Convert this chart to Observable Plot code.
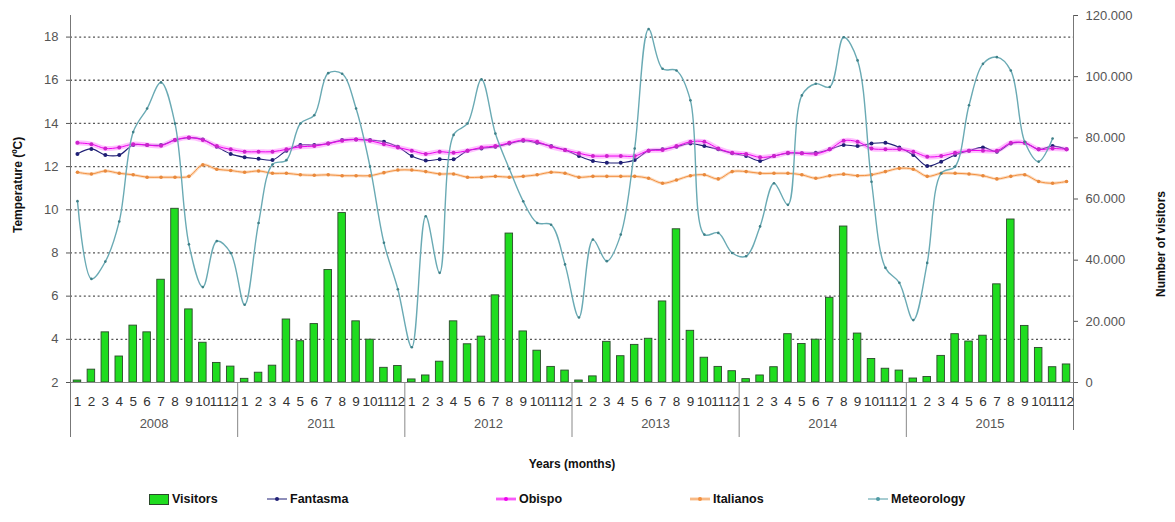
<!DOCTYPE html>
<html><head><meta charset="utf-8">
<script src="https://cdn.jsdelivr.net/npm/d3@7"></script>
<script src="https://cdn.jsdelivr.net/npm/@observablehq/plot@0.6"></script>
<style>
body{margin:0;background:#fff;font-family:"Liberation Sans",Arial,sans-serif;}
#wrap{position:relative;width:1175px;height:522px;overflow:hidden;}
.leg{position:absolute;top:491px;height:16px;display:flex;align-items:center;font-size:12.5px;font-weight:bold;color:#111;font-family:"Liberation Sans Narrow","Liberation Sans",Arial,sans-serif;}
</style></head><body><div id="wrap"></div>
<script>
const years = ["2008","2011","2012","2013","2014","2015"];
const monthLabels = ["1","2","3","4","5","6","7","8","9","10","11","12"];
const visitors = [
  650, 4200, 16400, 8500, 18600, 16400, 33600, 56800, 23900, 13000, 6400, 5200,
  1200, 3200, 5500, 20600, 13500, 19100, 36800, 55400, 20000, 14000, 4800, 5400,
  1000, 2300, 6800, 20000, 12500, 15000, 28500, 48700, 16700, 10400, 5100, 3900,
  650, 2000, 13300, 8600, 12300, 14300, 26500, 50100, 16900, 8100, 5100, 3700,
  1100, 2300, 5000, 15800, 12600, 14000, 27700, 51000, 16000, 7700, 4500, 3900,
  1300, 1800, 8700, 15800, 13400, 15300, 32100, 53300, 18500, 11300, 5000, 5900
];
const fantasma = [
  12.59, 12.82, 12.54, 12.54, 13.0, 13.0, 13.0, 13.23, 13.34, 13.26, 12.92, 12.59,
  12.43, 12.36, 12.31, 12.74, 13.0, 13.0, 13.07, 13.23, 13.26, 13.23, 13.15, 12.92,
  12.49, 12.28, 12.34, 12.34, 12.74, 12.84, 12.92, 13.07, 13.2, 13.1, 12.95, 12.77,
  12.49, 12.26, 12.18, 12.18, 12.31, 12.74, 12.8, 12.92, 13.07, 12.95, 12.8, 12.62,
  12.49, 12.26, 12.49, 12.62, 12.62, 12.64, 12.8, 13.0, 12.95, 13.07, 13.1, 12.89,
  12.54, 12.03, 12.23, 12.54, 12.74, 12.89, 12.69, 13.07, 13.1, 12.8, 12.95, 12.8
];
const obispo = [
  13.1, 13.04, 12.84, 12.89, 13.04, 13.0, 12.97, 13.23, 13.35, 13.23, 12.95, 12.8,
  12.69, 12.69, 12.69, 12.8, 12.92, 12.95, 13.07, 13.2, 13.26, 13.2, 13.04, 12.89,
  12.74, 12.59, 12.69, 12.64, 12.74, 12.89, 12.95, 13.1, 13.23, 13.15, 12.92, 12.77,
  12.62, 12.49, 12.49, 12.49, 12.49, 12.74, 12.77, 12.95, 13.15, 13.15, 12.84, 12.64,
  12.59, 12.43, 12.49, 12.64, 12.62, 12.59, 12.8, 13.2, 13.15, 12.84, 12.8, 12.8,
  12.69, 12.46, 12.49, 12.64, 12.74, 12.74, 12.74, 13.1, 13.1, 12.8, 12.84, 12.8
];
const italianos = [
  11.74, 11.66, 11.80, 11.69, 11.62, 11.51, 11.51, 11.51, 11.55, 12.08, 11.88, 11.82,
  11.74, 11.80, 11.69, 11.69, 11.62, 11.60, 11.62, 11.58, 11.58, 11.58, 11.72, 11.84,
  11.84, 11.77, 11.66, 11.66, 11.51, 11.51, 11.55, 11.51, 11.55, 11.62, 11.74, 11.69,
  11.51, 11.55, 11.55, 11.55, 11.55, 11.46, 11.23, 11.38, 11.58, 11.62, 11.43, 11.77,
  11.77, 11.69, 11.69, 11.69, 11.62, 11.46, 11.58, 11.65, 11.58, 11.62, 11.77, 11.92,
  11.88, 11.55, 11.69, 11.69, 11.66, 11.58, 11.43, 11.55, 11.62, 11.31, 11.23, 11.31
];
const meteorology = [
  10.4, 6.8, 7.6, 9.46, 13.6, 14.69, 15.9, 14.0, 8.4, 6.42, 8.55, 8.0,
  5.6, 9.39, 12.1, 12.3, 14.0, 14.38, 16.33, 16.3, 14.69, 12.0, 8.47, 6.32,
  3.63, 9.7, 7.08, 13.47, 14.0, 16.04, 13.53, 11.9, 10.39, 9.39, 9.31, 7.47,
  5.01, 8.62, 7.62, 8.85, 12.84, 18.37, 16.53, 16.45, 15.07, 8.85, 8.93, 8.0,
  7.85, 9.23, 11.23, 10.23, 15.3, 15.84, 15.69, 17.99, 16.92, 11.3, 7.31, 6.62,
  4.89, 7.54, 11.69, 12.0, 14.84, 16.76, 17.07, 16.45, 13.15, 12.23, 13.3, null
];
const tempTicks = [2, 4, 6, 8, 10, 12, 14, 16, 18];
const visitorTicks = [0, 20000, 40000, 60000, 80000, 100000, 120000];

const rows = visitors.map((v, i) => ({
  i, m: monthLabels[i % 12], v,
  fa: fantasma[i], ob: obispo[i], it: italianos[i], me: meteorology[i]
}));
const vToT = v => 2 + v * 17 / 120000;
const tToV = t => (t - 2) * 120000 / 17;
const fmt = d3.formatLocale({thousands: ".", decimal: ",", grouping: [3], currency: ["", ""]}).format(",");
const cx = d => d.i + 0.5;
const curve = "catmull-rom";

const chart = Plot.plot({
  width: 1175, height: 480,
  marginLeft: 70, marginRight: 102, marginTop: 15, marginBottom: 98,
  x: {domain: [0, 72], axis: null},
  y: {domain: [2, 19], axis: null},
  style: {fontFamily: "Liberation Sans, Arial, sans-serif", fontSize: "13px", background: "#fff", overflow: "visible"},
  marks: [
    Plot.ruleY(tempTicks.filter(t => t > 2), {stroke: "#555", strokeDasharray: "2,2.6", strokeWidth: 1.3}),
    Plot.rectY(rows, {x1: d => d.i + 0.23, x2: d => d.i + 0.77, y1: 2, y2: d => vToT(d.v), fill: "#1fdc1f", stroke: "#2b4a2b", strokeWidth: 0.9}),
    Plot.ruleY([2], {stroke: "#8a8a8a"}),
    Plot.ruleX([0], {y1: 19, y2: 2, insetBottom: -55, stroke: "#777"}),
    Plot.ruleX([72], {y1: 19, y2: 2, insetBottom: -48, stroke: "#777"}),
    Plot.ruleX([12, 24, 36, 48, 60], {y1: 2, y2: 2, insetBottom: -55, stroke: "#888"}),
    // Fantasma
    Plot.line(rows, {x: cx, y: "fa", stroke: "#1f1f75", strokeWidth: 1.1, curve}),
    Plot.dot(rows, {x: cx, y: "fa", r: 2, fill: "#1f1f75"}),
    // Obispo
    Plot.line(rows, {x: cx, y: "ob", stroke: "#ff70ff", strokeOpacity: 0.45, strokeWidth: 5, curve}),
    Plot.line(rows, {x: cx, y: "ob", stroke: "#ee00ee", strokeWidth: 1, curve}),
    Plot.dot(rows, {x: cx, y: "ob", r: 2, fill: "#cc22cc"}),
    // Italianos
    Plot.line(rows, {x: cx, y: "it", stroke: "#fbc79a", strokeOpacity: 0.6, strokeWidth: 3, curve}),
    Plot.line(rows, {x: cx, y: "it", stroke: "#f29040", strokeWidth: 1, curve}),
    Plot.dot(rows, {x: cx, y: "it", r: 1.8, fill: "#e8893c"}),
    // Meteorology
    Plot.line(rows, {x: cx, y: "me", stroke: "#6aaab4", strokeWidth: 1.4, curve}),
    Plot.dot(rows.filter(d => d.me != null), {x: cx, y: "me", r: 1.3, fill: "#3f8088"}),
    // axes
    Plot.axisY(tempTicks, {anchor: "left", tickSize: 4, tickPadding: 8, fontSize: 13, color: "#555"}),
    Plot.axisY(visitorTicks.map(vToT), {anchor: "right", tickSize: 4, tickPadding: 8, fontSize: 13, color: "#555",
      tickFormat: t => fmt(Math.round(tToV(t) / 1000) * 1000)}),
    Plot.text(rows, {x: cx, text: "m", frameAnchor: "bottom", dy: 23, fontSize: 13.5, fill: "#333"}),
    Plot.text(years, {x: (d, i) => i * 12 + 6, text: d => d, frameAnchor: "bottom", dy: 45, fontSize: 13, fill: "#555"}),
    Plot.text(["Years (months)"], {frameAnchor: "bottom", dy: 85, fontWeight: "bold", fontSize: 12, fill: "#111"}),
    Plot.text(["Temperature (ºC)"], {frameAnchor: "left", dx: -52, dy: 34, rotate: -90, fontWeight: "bold", fontSize: 12, fill: "#111"}),
    Plot.text(["Number of visitors"], {frameAnchor: "right", dx: 88, dy: -8, rotate: -90, fontWeight: "bold", fontSize: 12, fill: "#111"})
  ]
});
const wrap = document.getElementById("wrap");
wrap.appendChild(chart);

const lineSym = (c, glow) => `<svg width="20" height="10" style="margin-right:3px">` +
  (glow ? `<line x1="0" y1="5" x2="20" y2="5" stroke="${glow}" stroke-opacity="0.5" stroke-width="4"/>` : "") +
  `<line x1="0" y1="5" x2="20" y2="5" stroke="${c}" stroke-width="1"/><circle cx="10" cy="5" r="2" fill="${c}"/></svg>`;
const legendItems = [
  {left: 149, label: "Visitors", sym: `<span style="display:inline-block;width:18px;height:9px;background:#1fdc1f;border:1px solid #2b4a2b;margin-right:3px"></span>`},
  {left: 267, label: "Fantasma", sym: lineSym("#1f1f75")},
  {left: 496, label: "Obispo", sym: lineSym("#ee00ee", "#ff70ff")},
  {left: 690, label: "Italianos", sym: lineSym("#f29040", "#fbc79a")},
  {left: 868, label: "Meteorology", sym: lineSym("#4f9aa4")}
];
for (const it of legendItems) {
  const el = document.createElement("div");
  el.className = "leg";
  el.style.left = it.left + "px";
  el.innerHTML = it.sym + `<span>${it.label}</span>`;
  wrap.appendChild(el);
}
</script></body></html>
